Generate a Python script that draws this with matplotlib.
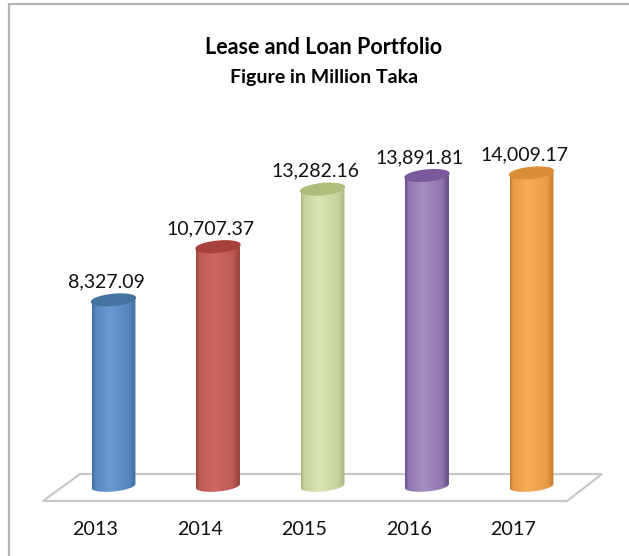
import matplotlib
matplotlib.use("Agg")
import matplotlib.pyplot as plt
import numpy as np
from matplotlib.colors import LinearSegmentedColormap
from matplotlib.lines import Line2D
from matplotlib.patches import PathPatch, Polygon
from matplotlib.path import Path
from matplotlib.transforms import ScaledTranslation

plt.rcParams['font.family'] = ['Lato', 'DejaVu Sans']

years = ['2013', '2014', '2015', '2016', '2017']
values = [8327.09, 10707.37, 13282.16, 13891.81, 14009.17]
value_labels = ['8,327.09', '10,707.37', '13,282.16', '13,891.81', '14,009.17']
# edge, highlight, dark side, top cap
bar_colors = [
    ('#5485bb', '#6a9bd2', '#40709f', '#44749f'),
    ('#bd5a55', '#cf6863', '#96423e', '#a8403b'),
    ('#c6d39f', '#d9e5b4', '#a9b77f', '#aebd7c'),
    ('#8f75ad', '#a88fc3', '#654c85', '#7b5a9c'),
    ('#e89c48', '#f8ac58', '#c07d30', '#d98f3a'),
]

W, H = 629, 556
fig = plt.figure(figsize=(W / 100, H / 100), dpi=100, facecolor='white')

# plot area in pixels, the y limits keep 0 on the floor of the chart
left, right, top, bottom = 40, 610, 100, 505
ax = fig.add_axes([left / W, 1 - bottom / H, (right - left) / W, (bottom - top) / H])
px_per_cat = 104.5
px_per_unit = 0.02235
base_px = 486
first_px = 113.5
ax.patch.set_alpha(0)
for s in ax.spines.values():
    s.set_visible(False)
ax.set_yticks([])


def to_fig(pts):
    return [(x / W, 1 - y / H) for x, y in pts]


# frame of the picture
fig.add_artist(Line2D(*zip(*to_fig([(8.5, 556), (8.5, 3.5), (629, 3.5)])), color='#b4b4b4', lw=1.6))

# floor goes behind the axes
fig.add_artist(Polygon(to_fig([(43, 501), (80, 474), (602, 474), (567, 501)]), closed=True,
                       facecolor='white', edgecolor='#c8c8c8', lw=1.6, zorder=-1))

half = 0.21   # bar half width, in categories
cap_b = 5.5 / px_per_unit
cap_tilt = 2 / px_per_unit
t = np.linspace(0, 2 * np.pi, 80)

for i, (v, (c_edge, c_mid, c_dark, c_top)) in enumerate(zip(values, bar_colors)):
    cmap = LinearSegmentedColormap.from_list('bar', [(0, c_dark), (0.07, c_edge), (0.4, c_mid),
                                                      (0.85, c_edge), (1, c_dark)])
    # body: straight sides, rounded at the bottom
    tb = np.linspace(np.pi, 2 * np.pi, 40)
    xs = list(i + half * np.cos(tb)) + [i + half, i - half]
    ys = list(cap_b * np.sin(tb) + cap_tilt * np.cos(tb)) + [v, v]
    body = PathPatch(Path(np.column_stack([xs, ys])), transform=ax.transData,
                     facecolor='none', edgecolor='none')
    ax.add_patch(body)
    im = ax.imshow(np.linspace(0, 1, 64).reshape(1, -1), cmap=cmap, aspect='auto',
                   extent=(i - half, i + half, -2 * cap_b, v), zorder=2)
    im.set_clip_path(body)
    # top cap
    ax.fill(i + half * np.cos(t), v + cap_b * np.sin(t) + cap_tilt * np.cos(t), color=c_top, zorder=3)
    ax.annotate(value_labels[i], (i, v), xytext=(-7 * 0.72, 18 * 0.72), textcoords='offset points',
                ha='center', va='center', fontsize=14, color='#111111')

ax.set_xlim((left - first_px) / px_per_cat, (right - first_px) / px_per_cat)
ax.set_ylim((base_px - bottom) / px_per_unit, (base_px - top) / px_per_unit)

ax.set_xticks(range(len(years)))
ax.set_xticklabels(years, fontsize=14.2, color='#111111')
ax.tick_params(axis='x', length=0, pad=11.5)
for lbl in ax.get_xticklabels():
    lbl.set_transform(lbl.get_transform() + ScaledTranslation(-18 / 100, 0, fig.dpi_scale_trans))

fig.text(324 / W, 1 - 47 / H, 'Lease and Loan Portfolio', ha='center', va='center',
         fontsize=15.5, fontweight='bold', color='black')
fig.text(324 / W, 1 - 78 / H, 'Figure in Million Taka', ha='center', va='center',
         fontsize=14, fontweight='bold', color='black')

fig.savefig('out.png', dpi=100)
